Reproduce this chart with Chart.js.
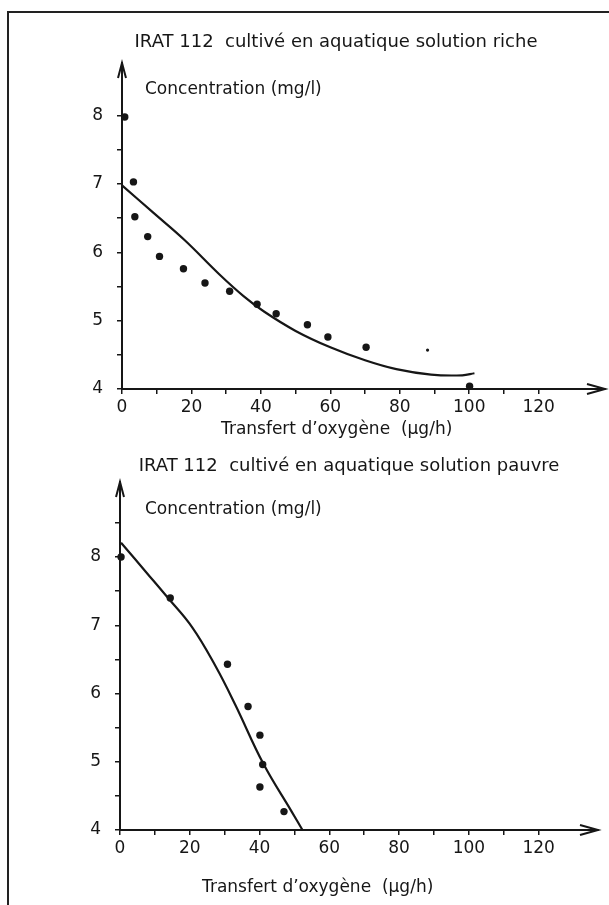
<!DOCTYPE html>
<html>
<head>
<meta charset="utf-8">
<script src="https://cdn.jsdelivr.net/npm/chart.js@4.4.1/dist/chart.umd.min.js"></script>
<style>
  html, body { margin: 0; padding: 0; background: #fff; }
  body { width: 609px; height: 905px; position: relative; overflow: hidden; }
  .frame { position: absolute; left: 7px; top: 11px; width: 640px; height: 920px;
           border-left: 2px solid #222; border-top: 2px solid #222; }
  canvas { position: absolute; left: 0; }
  #chartRiche { top: 0; }
  #chartPauvre { top: 450px; }
</style>
</head>
<body>
<div class="frame"></div>
<canvas id="chartRiche" width="609" height="450"></canvas>
<canvas id="chartPauvre" width="609" height="455"></canvas>
<script>
// --- data ---
// solution riche: measured points + fitted curve
const richeX = [0.8, 3.3, 3.7, 7.4, 10.8, 17.7, 23.9, 31.0, 38.9, 44.4, 53.4, 59.3, 70.3, 88.0, 100.1];
const richeY = [7.98, 7.03, 6.52, 6.23, 5.94, 5.76, 5.55, 5.43, 5.24, 5.10, 4.94, 4.76, 4.61, 4.57, 4.04];
const richeCurveX = [0, 9, 18, 28, 35, 41, 50, 60, 70, 79, 89, 98, 101.5];
const richeCurveY = [6.98, 6.58, 6.18, 5.68, 5.36, 5.13, 4.85, 4.61, 4.42, 4.29, 4.21, 4.2, 4.23];

// solution pauvre
const pauvreX = [0.3, 14.4, 30.8, 36.7, 40.1, 40.9, 40.1, 47.0];
const pauvreY = [8.0, 7.40, 6.43, 5.81, 5.39, 4.96, 4.63, 4.27];
const pauvreCurveX = [0.3, 7.8, 13.6, 20.7, 27.4, 33, 41.1, 49.2, 52.3];
const pauvreCurveY = [8.21, 7.76, 7.41, 6.97, 6.40, 5.84, 4.97, 4.27, 4.0];

// ticks
const xTicks = [0, 10, 20, 30, 40, 50, 60, 70, 80, 90, 100, 110, 120];
const xTickLabels = ['0', '', '20', '', '40', '', '60', '', '80', '', '100', '', '120'];
const richeYTicks = [4, 4.5, 5, 5.5, 6, 6.5, 7, 7.5, 8];
const pauvreYTicks = [4, 4.5, 5, 5.5, 6, 6.5, 7, 7.5, 8, 8.5];
const yTickLabels = ['4', '', '5', '', '6', '', '7', '', '8', ''];

const INK = '#161616';
const FONT = "'DejaVu Sans', sans-serif";

const toXY = (xs, ys) => xs.map((x, i) => ({ x: x, y: ys[i] }));

// open arrow heads at the end of both axes
const axisArrows = {
  id: 'axisArrows',
  afterDraw(chart) {
    const { ctx, chartArea: a } = chart;
    ctx.save();
    ctx.strokeStyle = INK;
    ctx.lineWidth = 2;
    ctx.beginPath();
    ctx.moveTo(a.left - 4, a.top + 15);
    ctx.lineTo(a.left, a.top);
    ctx.lineTo(a.left + 4, a.top + 15);
    ctx.moveTo(a.right - 18, a.bottom - 5);
    ctx.lineTo(a.right, a.bottom);
    ctx.lineTo(a.right - 18, a.bottom + 5);
    ctx.stroke();
    ctx.restore();
  }
};

// free-placed texts (title, axis names)
const textLabels = {
  id: 'textLabels',
  afterDraw(chart, args, opts) {
    const ctx = chart.ctx;
    ctx.save();
    ctx.fillStyle = INK;
    ctx.textBaseline = 'middle';
    opts.items.forEach(t => {
      ctx.font = t.font;
      ctx.textAlign = t.align || 'left';
      ctx.fillText(t.text, t.x, t.y);
    });
    ctx.restore();
  }
};

function makeChart(id, o) {
  return new Chart(document.getElementById(id), {
    type: 'scatter',
    data: {
      datasets: [
        {
          data: o.curve,
          showLine: true,
          pointRadius: 0,
          borderColor: INK,
          borderWidth: 2.2,
          tension: 0.4,
          clip: false
        },
        {
          data: o.points,
          pointRadius: o.radius || 3.7,
          backgroundColor: INK,
          borderWidth: 0,
          clip: false
        }
      ]
    },
    options: {
      responsive: false,
      animation: false,
      devicePixelRatio: 1,
      events: [],
      layout: { padding: o.padding },
      scales: {
        x: {
          type: 'linear',
          min: 0,
          max: o.xMax,
          afterBuildTicks: s => { s.ticks = xTicks.map(v => ({ value: v })); },
          afterFit: s => { s.height = o.xAxisH; },
          ticks: {
            color: INK,
            font: { family: FONT, size: 17 },
            padding: 3,
            maxRotation: 0,
            autoSkip: false,
            callback: (v, i) => xTickLabels[i]
          },
          grid: { drawOnChartArea: false, tickLength: 5, color: INK, lineWidth: 1.5 },
          border: { display: true, color: INK, width: 2 }
        },
        y: {
          type: 'linear',
          min: 4,
          max: o.yMax,
          afterBuildTicks: s => { s.ticks = o.yTicks.map(v => ({ value: v })); },
          afterFit: s => { s.width = o.yAxisW; },
          ticks: {
            color: INK,
            font: { family: FONT, size: 17 },
            padding: 14,
            autoSkip: false,
            callback: (v, i) => yTickLabels[i]
          },
          grid: { drawOnChartArea: false, tickLength: 5, color: INK, lineWidth: 1.5 },
          border: { display: true, color: INK, width: 2 }
        }
      },
      plugins: {
        legend: { display: false },
        tooltip: { enabled: false },
        textLabels: { items: o.texts }
      }
    },
    plugins: [axisArrows, textLabels]
  });
}

makeChart('chartRiche', {
  curve: toXY(richeCurveX, richeCurveY),
  points: toXY(richeX, richeY),
  radius: ctx => (ctx.dataIndex === 13 ? 1.6 : 3.7),
  xMax: 139.1,
  yMax: 8.77,
  yTicks: richeYTicks,
  padding: { left: 0, right: 4, top: 63, bottom: 0 },
  yAxisW: 122,
  xAxisH: 61,
  texts: [
    { text: 'IRAT 112  cultivé en aquatique solution riche', x: 336, y: 42, align: 'center', font: '18px ' + FONT },
    { text: 'Concentration (mg/l)', x: 145, y: 90, font: '17px ' + FONT },
    { text: 'Transfert d\u2019oxygène  (µg/h)', x: 221, y: 430, font: '17px ' + FONT }
  ]
});

makeChart('chartPauvre', {
  curve: toXY(pauvreCurveX, pauvreCurveY),
  points: toXY(pauvreX, pauvreY),
  xMax: 137,
  yMax: 9.1,
  yTicks: pauvreYTicks,
  padding: { left: 0, right: 11, top: 32, bottom: 0 },
  yAxisW: 120,
  xAxisH: 75,
  texts: [
    { text: 'IRAT 112  cultivé en aquatique solution pauvre', x: 349, y: 16, align: 'center', font: '18px ' + FONT },
    { text: 'Concentration (mg/l)', x: 145, y: 60, font: '17px ' + FONT },
    { text: 'Transfert d\u2019oxygène  (µg/h)', x: 202, y: 438, font: '17px ' + FONT }
  ]
});
</script>
</body>
</html>
